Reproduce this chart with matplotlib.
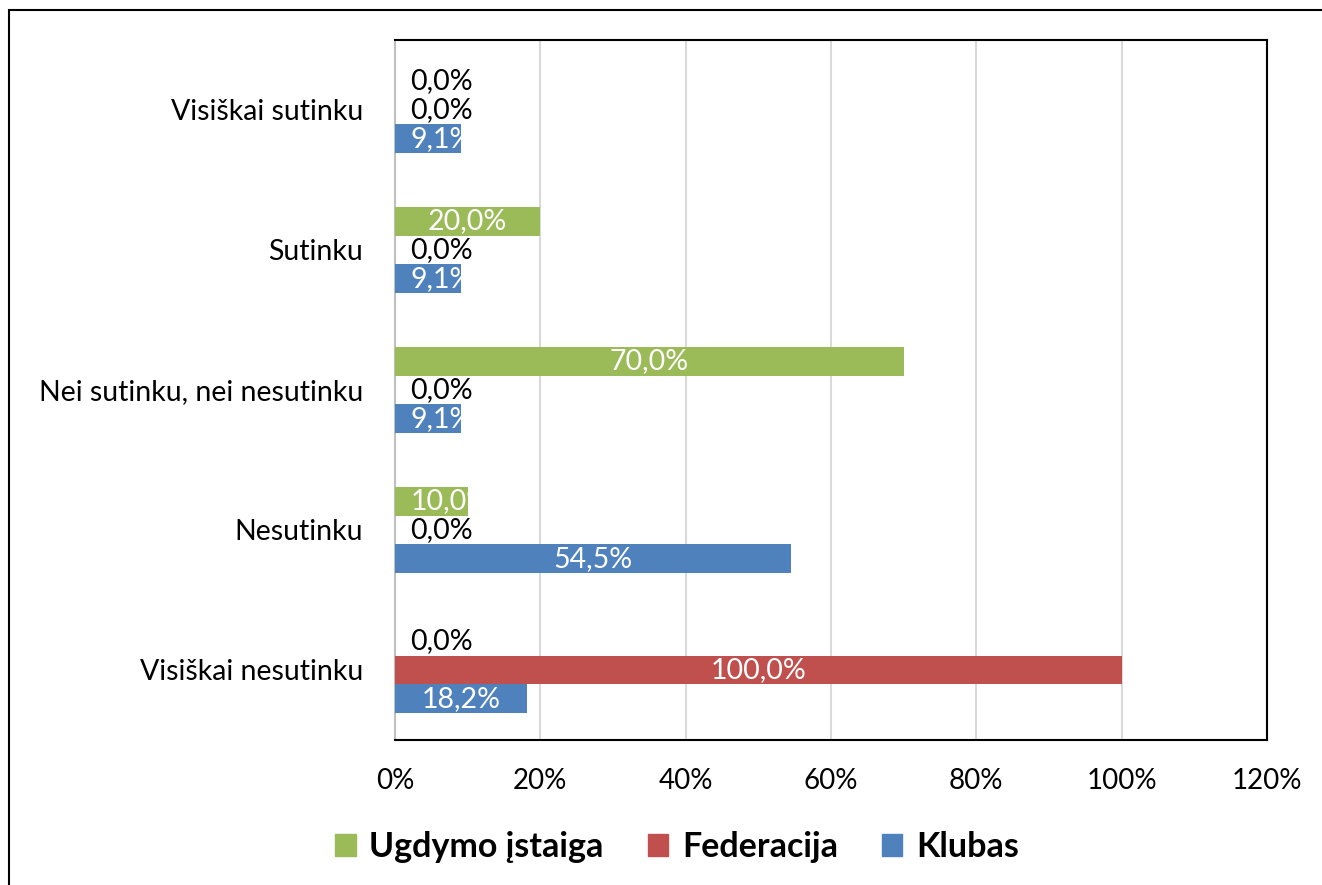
import matplotlib
matplotlib.use("Agg")
import matplotlib.pyplot as plt
from matplotlib.patches import Rectangle, Patch
import numpy as np

plt.rcParams['font.family'] = ['Lato', 'DejaVu Sans']

categories = ["Visiškai nesutinku", "Nesutinku", "Nei sutinku, nei nesutinku", "Sutinku", "Visiškai sutinku"]
klubas = [18.2, 54.5, 9.1, 9.1, 9.1]
federacija = [100.0, 0.0, 0.0, 0.0, 0.0]
ugdymo = [0.0, 10.0, 70.0, 20.0, 0.0]
series_names = ["Klubas", "Federacija", "Ugdymo įstaiga"]
colors = ["#4F81BD", "#C0504D", "#9BBB59"]
xticks = [0, 20, 40, 60, 80, 100, 120]

fig = plt.figure(figsize=(13.22, 8.85), dpi=100)
ax = fig.add_axes([395/1322, 1-740/885, 872/1322, 700/885])

# outer border
fig.patches.append(Rectangle((9/1322, -0.05), 1.2, 1-10/885+0.05, transform=fig.transFigure,
                             fill=False, edgecolor='black', linewidth=1.5))

y = np.arange(len(categories))
h = 0.207
all_series = [klubas, federacija, ugdymo]
for i, (vals, name, c) in enumerate(zip(all_series, series_names, colors)):
    pos = y + (i - 1) * h
    bars = ax.barh(pos, vals, height=h, color=c, label=name, zorder=3)
    for b, v in zip(bars, vals):
        lbl = f"{v:.1f}%".replace('.', ',')
        yc = b.get_y() + h/2
        if v == 0:
            ax.annotate(lbl, (0, yc), xytext=(11, 0), textcoords='offset points',
                        ha='left', va='center', fontsize=20.5, color='black', zorder=4)
        elif v < 15:
            t = ax.annotate(lbl, (0, yc), xytext=(11, 0), textcoords='offset points',
                            ha='left', va='center', fontsize=20.5, color='white', zorder=4)
            t.set_clip_path(b)
        else:
            t = ax.text(v/2, yc, lbl, ha='center', va='center', fontsize=20.5,
                        color='white', zorder=4)
            t.set_clip_path(b)

ax.set_xlim(0, 120)
ax.set_ylim(-0.5, 4.5)
ax.set_xticks(xticks)
ax.set_xticklabels([f"{t}%" for t in xticks], fontsize=20)
ax.set_yticks(y)
ax.set_yticklabels(categories, fontsize=20.5)
ax.tick_params(axis='both', length=0)
ax.tick_params(axis='x', pad=20)
ax.tick_params(axis='y', pad=23)
ax.grid(axis='x', color='#D9D9D9', linewidth=1.5, zorder=0)
for s in ['top', 'right', 'bottom']:
    ax.spines[s].set_color('black')
    ax.spines[s].set_linewidth(1.5)
ax.spines['left'].set_color('#BFBFBF')
ax.spines['left'].set_linewidth(1.5)

handles = [Patch(color=colors[2]), Patch(color=colors[1]), Patch(color=colors[0])]
leg = fig.legend(handles, [series_names[2], series_names[1], series_names[0]],
                 loc='center', bbox_to_anchor=(677/1322, 1-847/885), ncol=3, frameon=False,
                 prop={'size': 24.5, 'weight': 'bold'}, handlelength=0.6, handleheight=0.6,
                 handletextpad=0.4, columnspacing=1.3)

fig.savefig("out.png", dpi=100)
